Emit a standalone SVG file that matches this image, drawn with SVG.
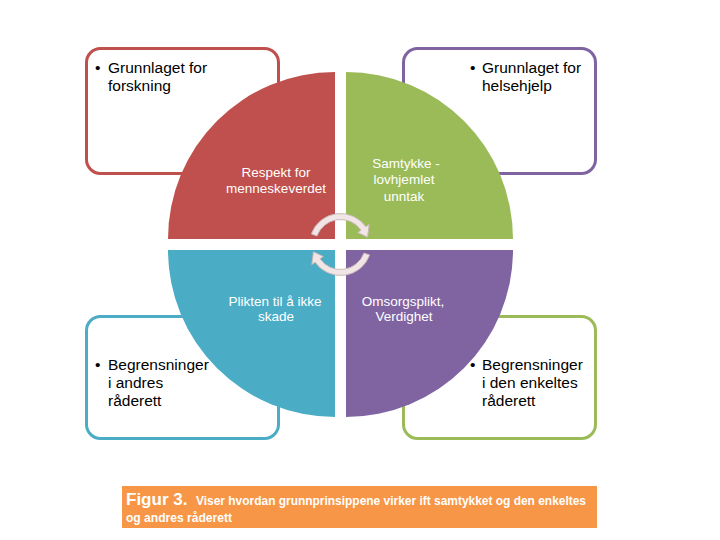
<svg xmlns="http://www.w3.org/2000/svg" width="720" height="540" viewBox="0 0 720 540">
<style>
.box{fill:#fff;stroke-width:3}
.bt{font-family:"Liberation Sans",Arial,sans-serif;font-size:15.5px;fill:#000}
.qt{font-family:"Liberation Sans",Arial,sans-serif;font-size:13.5px;fill:#fff;text-anchor:middle}
.arc{fill:#F1E5E5;stroke:#C8BABA;stroke-width:1}
.cap{font-family:"Liberation Sans",Arial,sans-serif;fill:#fff;font-weight:bold}
</style>
<rect width="720" height="540" fill="#fff"/>
<g id="box-forskning"><rect class="box" x="86.5" y="48.5" width="192" height="125" rx="14" stroke="#C0504D"/></g>
<g id="box-helsehjelp"><rect class="box" x="403.5" y="48.5" width="192" height="125" rx="14" stroke="#8064A2"/></g>
<g id="box-andres"><rect class="box" x="86.5" y="316.5" width="192" height="122" rx="14" stroke="#4BACC6"/></g>
<g id="box-enkeltes"><rect class="box" x="403.5" y="316.5" width="192" height="122" rx="14" stroke="#9BBB59"/></g>
<g id="q-respekt"><path d="M335 239 L168 239 A167 167 0 0 1 335 72 Z" fill="#C0504D"/>
<text class="qt" x="276" y="177">Respekt for</text><text class="qt" x="276" y="193">menneskeverdet</text></g>
<g id="q-samtykke"><path d="M346 239 L346 72 A167 167 0 0 1 513 239 Z" fill="#9BBB59"/>
<text class="qt" x="406" y="168">Samtykke -</text><text class="qt" x="404" y="184">lovhjemlet</text><text class="qt" x="404" y="201">unntak</text></g>
<g id="q-plikten"><path d="M335 250 L335 417 A167 167 0 0 1 168 250 Z" fill="#4BACC6"/>
<text class="qt" x="275" y="306">Plikten til å ikke</text><text class="qt" x="276" y="321">skade</text></g>
<g id="q-omsorg"><path d="M346 250 L513 250 A167 167 0 0 1 346 417 Z" fill="#8064A2"/>
<text class="qt" x="403" y="306">Omsorgsplikt,</text><text class="qt" x="404" y="321">Verdighet</text></g>
<g id="connectors">
<path class="arc" d="M311.37 233.9 A31 31 0 0 1 365.89 226.72 L369.17 224.42 L367.55 237.25 L357.7 232.45 L360.98 230.16 A25 25 0 0 0 317.01 235.95 Z"/>
<path class="arc" transform="rotate(180 340.5 244.5)" d="M311.37 233.9 A31 31 0 0 1 365.89 226.72 L369.17 224.42 L367.55 237.25 L357.7 232.45 L360.98 230.16 A25 25 0 0 0 317.01 235.95 Z"/>
</g>
<g id="t-forskning"><text class="bt" x="95" y="73">•</text><text class="bt" x="108" y="73">Grunnlaget for</text><text class="bt" x="108" y="91">forskning</text></g>
<g id="t-helsehjelp"><text class="bt" x="470" y="73">•</text><text class="bt" x="482" y="73">Grunnlaget for</text><text class="bt" x="482" y="91">helsehjelp</text></g>
<g id="t-andres"><text class="bt" x="95" y="370">•</text><text class="bt" x="108" y="370">Begrensninger</text><text class="bt" x="108" y="388">i andres</text><text class="bt" x="108" y="406">råderett</text></g>
<g id="t-enkeltes"><text class="bt" x="470" y="370">•</text><text class="bt" x="482" y="370">Begrensninger</text><text class="bt" x="482" y="388">i den enkeltes</text><text class="bt" x="482" y="406">råderett</text></g>
<g id="caption"><rect x="122" y="486" width="475" height="42" fill="#F79646"/>
<text class="cap" x="126" y="505" font-size="17">Figur 3.</text>
<text class="cap" x="196" y="505" font-size="12" textLength="390" lengthAdjust="spacingAndGlyphs">Viser hvordan grunnprinsippene virker ift samtykket og den enkeltes</text>
<text class="cap" x="126" y="522" font-size="12" textLength="106" lengthAdjust="spacingAndGlyphs">og andres råderett</text></g>
</svg>
